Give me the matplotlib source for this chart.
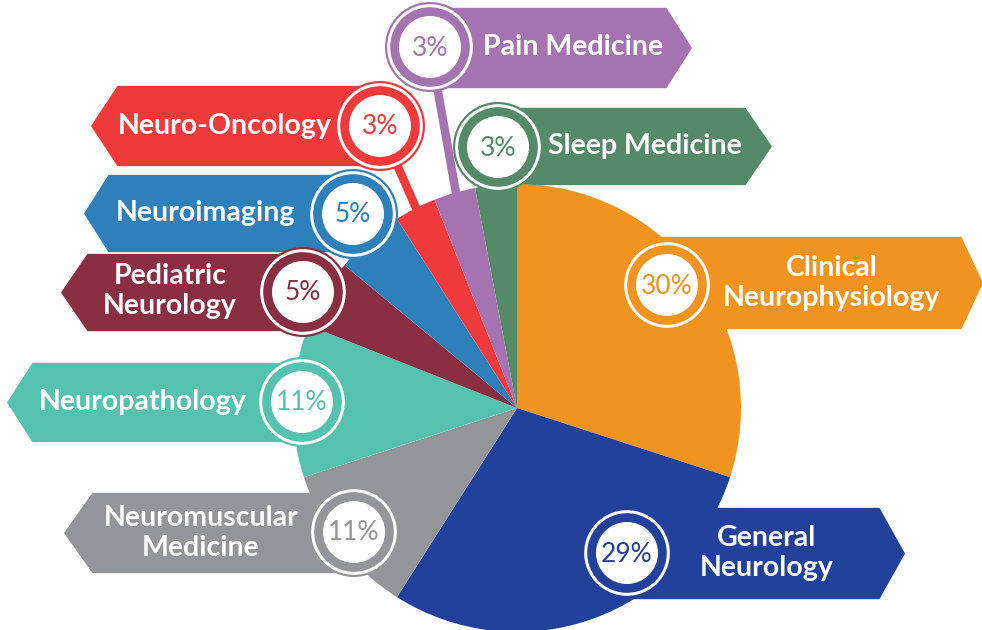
import numpy as np
import matplotlib
matplotlib.use('Agg')
import matplotlib.pyplot as plt
from matplotlib.patches import Polygon, Circle

plt.rcParams['font.family'] = ['Lato', 'DejaVu Sans']

# data, clockwise from 12 o'clock
labels = ['Clinical\nNeurophysiology', 'General\nNeurology', 'Neuromuscular\nMedicine',
          'Neuropathology', 'Pediatric\nNeurology', 'Neuroimaging', 'Neuro-Oncology',
          'Pain Medicine', 'Sleep Medicine']
shares = [30, 29, 11, 11, 5, 5, 3, 3, 3]
colors = ['#F0931F', '#22419A', '#939598', '#54C2AE', '#892F41',
          '#2E80BA', '#EF3A3C', '#A673B1', '#548A67']

# layout in pixels (x_in, x_out, top, bottom, tip)
boxes = [(620, 962, 236, 330, 984), (600, 880, 507, 600, 906), (354, 92, 492, 574, 63),
         (302, 32, 362, 443, 6), (315, 87, 253, 332, 60), (353, 108, 174, 253, 83),
         (380, 117, 85, 167, 90), (430, 667, 7, 89, 693), (498, 746, 107, 186, 773)]
badges = [(667, 285), (627, 553), (354, 532), (302, 402), (303, 292), (353, 214),
          (380, 126), (430, 47), (498, 147)]
text_xy = [(832, 283), (767, 553), (201, 533), (143, 402), (170, 291), (206, 213),
           (225, 126), (573, 47), (645, 146)]
has_stem = [False, False, False, False, False, False, True, True, False]

W, H = 982, 630
cx, cy, R = 517, 408, 224
px = 0.72  # points per pixel at dpi 100

fig = plt.figure(figsize=(W / 100, H / 100), dpi=100)
ax = fig.add_axes([0, 0, 1, 1])

# y axis is flipped below, so start at -90 and go "counterclock" = clockwise on screen
wedges, _ = ax.pie(shares, colors=colors, startangle=-90, counterclock=True,
                   radius=R, center=(cx, cy),
                   wedgeprops=dict(linewidth=0, zorder=1))

for (x_in, x_out, top, bot, tip), c in zip(boxes, colors):
    mid = (top + bot) / 2
    pts = [(x_in, top), (x_out, top), (tip, mid), (x_out, bot), (x_in, bot)]
    ax.add_patch(Polygon(pts, closed=True, fc=c, ec='white', lw=1.2, zorder=0.5))

# stems from badge to the middle of its slice
for w, (bx, by), c, s in zip(wedges, badges, colors, has_stem):
    if not s:
        continue
    a = np.deg2rad((w.theta1 + w.theta2) / 2)
    ex, ey = cx + R * np.cos(a), cy + R * np.sin(a)
    ix, iy = cx + (R - 14) * np.cos(a), cy + (R - 14) * np.sin(a)
    ax.plot([bx, ex], [by, ey], color='white', lw=12 * px, solid_capstyle='butt', zorder=1.5)
    ax.plot([bx, ix], [by, iy], color=c, lw=8.5 * px, solid_capstyle='butt', zorder=3)

for (bx, by), c, v in zip(badges, colors, shares):
    ax.add_patch(Circle((bx, by), 45, fc=c, ec='none', zorder=4))
    ax.add_patch(Circle((bx, by), 41.3, fc='none', ec='white', lw=3 * px, zorder=5))
    ax.add_patch(Circle((bx, by), 31, fc='white', ec='none', zorder=5))
    ax.text(bx, by + 1, f'{v}%', color=c, fontsize=19, ha='center', va='center', zorder=6)

for (tx, ty), lab in zip(text_xy, labels):
    ax.text(tx, ty, lab, color='white', fontsize=20.5, fontweight='bold', ha='center',
            va='center', linespacing=1.2, zorder=6)

ax.set_xlim(0, W)
ax.set_ylim(H, 0)
ax.set_aspect('equal')
ax.axis('off')

fig.savefig('out.png', dpi=100, facecolor='white')
